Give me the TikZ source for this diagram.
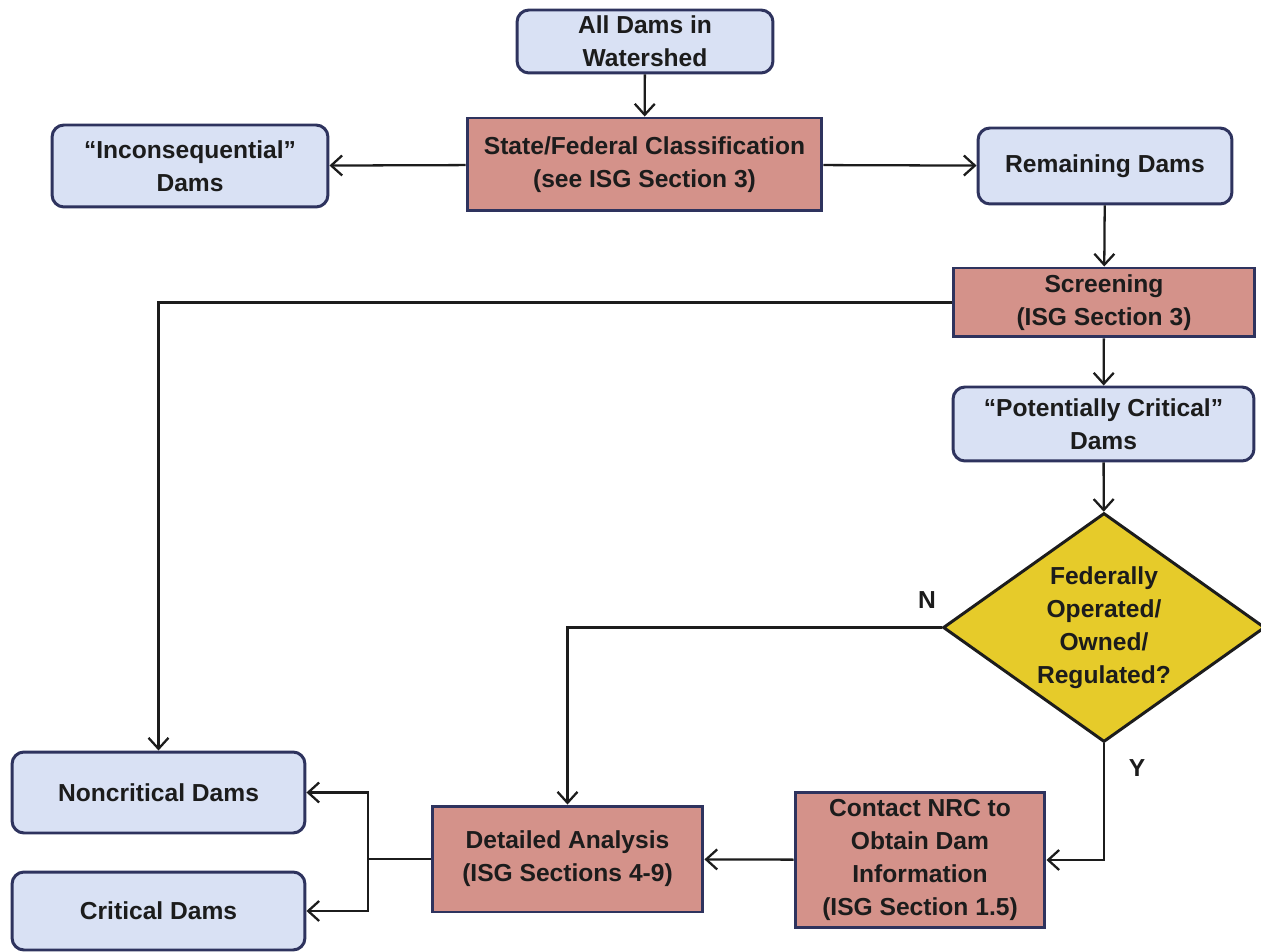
\documentclass[tikz,border=0pt]{standalone}
\usepackage{fontspec}
\setmainfont{Liberation Sans}
\usetikzlibrary{arrows.meta,shapes.geometric}
\definecolor{azul}{HTML}{D9E1F4}
\definecolor{borde}{HTML}{2E335E}
\definecolor{rosa}{HTML}{D4928A}
\definecolor{amarillo}{HTML}{E6CB2A}
\definecolor{tinta}{HTML}{1C1C1C}
\begin{document}
\begin{tikzpicture}[x=0.02cm, y=-0.02cm,
  damset/.style={rectangle, rounded corners=0.24cm, draw=borde, line width=1.7pt, fill=azul,
                 align=center, inner sep=0pt, text=tinta},
  proc/.style={rectangle, draw=borde, line width=1.7pt, fill=rosa, align=center,
               inner sep=0pt, text=tinta},
  decis/.style={diamond, draw=tinta, line width=1.7pt, fill=amarillo, align=center,
                inner sep=0pt, aspect=1.406, text=tinta},
  flecha/.style={-{Straight Barb[length=2.2mm,width=4mm]}, line width=1.3pt, draw=tinta},
  every node/.style={font=\fontsize{14}{18.8}\selectfont\bfseries}]
\useasboundingbox[fill=white] (0,0) rectangle (1261,952);
\node[damset, minimum width=5.12cm, minimum height=1.26cm](all) at (645,41.5){All Dams in\\Watershed};
\node[proc, minimum width=7.1cm, minimum height=1.86cm](clas) at (644.5,164.5){State/Federal Classification\\(see ISG Section 3)};
\node[damset, minimum width=5.52cm, minimum height=1.64cm](inc) at (190,166){``Inconsequential''\\Dams};
\node[damset, minimum width=5.08cm, minimum height=1.52cm](rem) at (1105,166){Remaining Dams};
\node[proc, minimum width=6.04cm, minimum height=1.38cm](scr) at (1104,302.5){Screening\\(ISG Section 3)};
\node[damset, minimum width=6.02cm, minimum height=1.48cm](pot) at (1103.5,424){``Potentially Critical''\\Dams};
\node[decis, minimum width=6.44cm, minimum height=4.58cm](fed) at (1104,627.5){Federally\\Operated/\\Owned/\\Regulated?};
\node[damset, minimum width=5.86cm, minimum height=1.62cm](noncrit) at (158.5,792.5){Noncritical Dams};
\node[damset, minimum width=5.86cm, minimum height=1.56cm](crit) at (158.5,911){Critical Dams};
\node[proc, minimum width=5.42cm, minimum height=2.12cm](det) at (567.5,859){Detailed Analysis\\(ISG Sections 4-9)};
\node[proc, minimum width=5.0cm, minimum height=2.72cm](nrc) at (920,860){Contact NRC to\\Obtain Dam\\Information\\(ISG Section 1.5)};
\node[text=tinta](no) at (927,600){N};
\node[text=tinta](yes) at (1137,768){Y};
\coordinate (split) at (368,859);
\draw[flecha](all)--(clas);
\draw[flecha](clas)--(inc);
\draw[flecha](clas)--(rem);
\draw[flecha](rem)--(scr);
\draw[flecha](scr.west)-|(noncrit.north);
\draw[flecha](scr)--(pot);
\draw[flecha](pot)--(fed);
\draw[flecha](fed.west)-|(det.north);
\draw[flecha](fed.south)|-(nrc.east);
\draw[flecha](nrc)--(det);
\draw[line width=1.3pt, draw=tinta](det.west)--(split);
\draw[flecha](split)|-(noncrit.east);
\draw[flecha](split)|-(crit.east);
\end{tikzpicture}
\end{document}
